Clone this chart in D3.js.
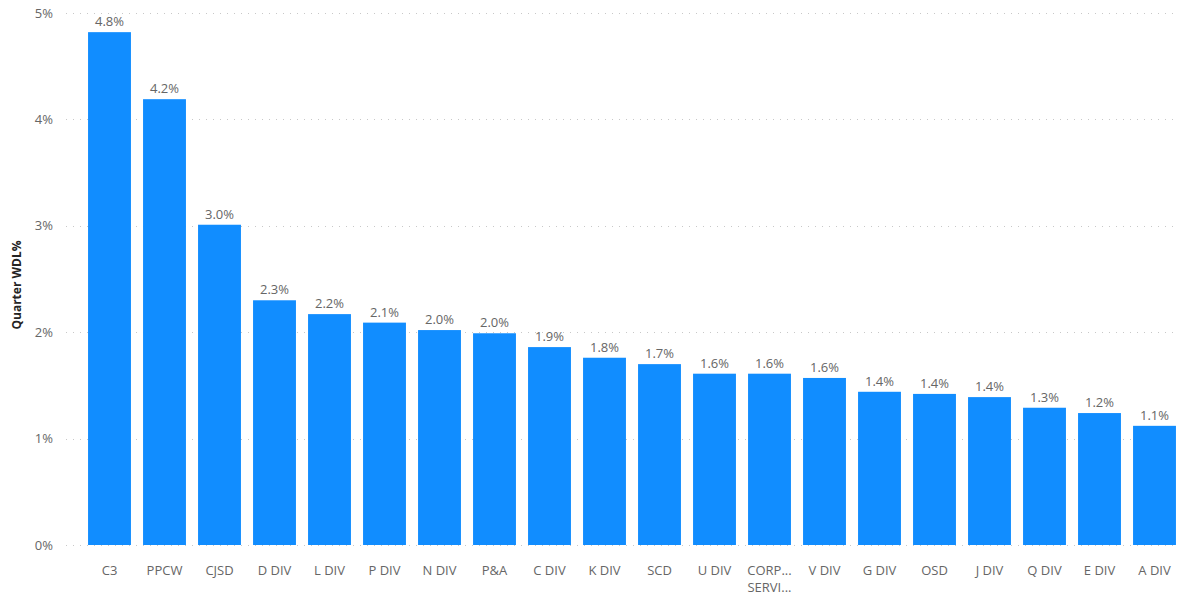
<!DOCTYPE html>
<html>
<head>
<meta charset="utf-8">
<script src="https://cdn.jsdelivr.net/npm/d3@7"></script>
<style>
    body { margin: 0; background: #fff; }
    svg text { font-family: "Segoe UI", "Open Sans", "Noto Sans", sans-serif; }
</style>
</head>
<body>
<div id="chart"></div>
<script>
// categories and values
var categories = ["C3", "PPCW", "CJSD", "D DIV", "L DIV", "P DIV", "N DIV", "P&A", "C DIV", "K DIV",
    "SCD", "U DIV", "CORP... SERVI...", "V DIV", "G DIV", "OSD", "J DIV", "Q DIV", "E DIV", "A DIV"];
var values = [4.82, 4.19, 3.01, 2.30, 2.17, 2.09, 2.02, 1.99, 1.86, 1.76,
    1.70, 1.61, 1.61, 1.57, 1.44, 1.42, 1.39, 1.29, 1.24, 1.12];
var yTicks = [0, 1, 2, 3, 4, 5];

var width = 1178, height = 595;

var svg = d3.select("#chart").append("svg")
    .attr("width", width)
    .attr("height", height);

var x = d3.scaleBand()
    .domain(categories)
    .range([82, 1182])
    .paddingInner(0.22)
    .paddingOuter(0.11);

var y = d3.scaleLinear()
    .domain([0, 5])
    .range([545, 13]);

// grid lines (dotted)
svg.append("g")
    .selectAll("line")
    .data(yTicks)
    .enter().append("line")
    .attr("x1", 66)
    .attr("x2", width)
    .attr("y1", function (d) { return Math.round(y(d)) + 0.5; })
    .attr("y2", function (d) { return Math.round(y(d)) + 0.5; })
    .attr("stroke", "#c8c8c8")
    .attr("stroke-width", 1)
    .attr("stroke-dasharray", "1,6");

// y tick labels
svg.append("g")
    .selectAll("text")
    .data(yTicks)
    .enter().append("text")
    .attr("x", 53)
    .attr("y", function (d) { return y(d); })
    .attr("dy", "0.35em")
    .attr("text-anchor", "end")
    .attr("font-size", 13)
    .attr("fill", "#666666")
    .text(function (d) { return d + "%"; });

// y title
svg.append("text")
    .attr("transform", "translate(21,285) rotate(-90)")
    .attr("text-anchor", "middle")
    .attr("font-size", 12)
    .attr("font-weight", "bold")
    .attr("fill", "#252423")
    .text("Quarter WDL%");

// bars
svg.append("g")
    .selectAll("rect")
    .data(values)
    .enter().append("rect")
    .attr("x", function (d, i) { return x(categories[i]); })
    .attr("y", function (d) { return y(d); })
    .attr("width", x.bandwidth())
    .attr("height", function (d) { return y(0) - y(d); })
    .attr("fill", "#118dff");

// data labels
svg.append("g")
    .selectAll("text")
    .data(values)
    .enter().append("text")
    .attr("x", function (d, i) { return x(categories[i]) + x.bandwidth() / 2; })
    .attr("y", function (d) { return y(d) - 6; })
    .attr("text-anchor", "middle")
    .attr("font-size", 13)
    .attr("fill", "#666666")
    .text(function (d) { return d.toFixed(1) + "%"; });

// x labels (wrapped on space after "...")
var xl = svg.append("g")
    .selectAll("text")
    .data(categories)
    .enter().append("text")
    .attr("x", function (d) { return x(d) + x.bandwidth() / 2; })
    .attr("y", 575)
    .attr("text-anchor", "middle")
    .attr("font-size", 13)
    .attr("fill", "#666666");

xl.each(function (d) {
    var parts = d.indexOf("... ") > 0 ? d.split(" ") : [d];
    var t = d3.select(this);
    parts.forEach(function (p, k) {
        t.append("tspan")
            .attr("x", t.attr("x"))
            .attr("dy", k === 0 ? 0 : 17)
            .text(p);
    });
});
</script>
</body>
</html>
